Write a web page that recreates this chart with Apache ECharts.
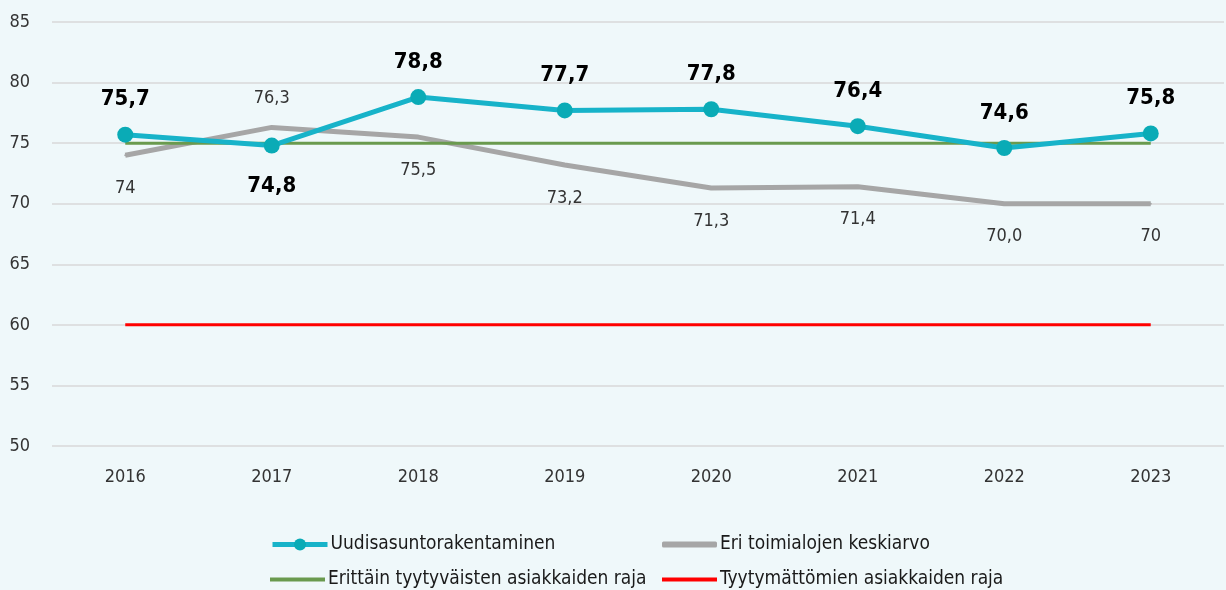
<!DOCTYPE html>
<html>
<head>
<meta charset="utf-8">
<script src="https://cdn.jsdelivr.net/npm/echarts@6/dist/echarts.min.js"></script>
<style>
  html, body { margin: 0; padding: 0; background: #eff8fa; }
  #chart { width: 1226px; height: 590px; }
</style>
</head>
<body>
<div id="chart"></div>
<script>
const years = ['2016', '2017', '2018', '2019', '2020', '2021', '2022', '2023']
const uudis = [75.7, 74.8, 78.8, 77.7, 77.8, 76.4, 74.6, 75.8]
const keskiarvo = [74, 76.3, 75.5, 73.2, 71.3, 71.4, 70.0, 70]
const keskiarvoLabels = ['74', '76,3', '75,5', '73,2', '71,3', '71,4', '70,0', '70']
const erittainRaja = [75, 75, 75, 75, 75, 75, 75, 75]
const tyytymatonRaja = [60, 60, 60, 60, 60, 60, 60, 60]

const font = "'Liberation Sans Narrow', 'DejaVu Sans Condensed', sans-serif"
const fmt = v => String(v).replace('.', ',')

function legendItem(name, left, top, icon, h, extra) {
  return Object.assign({
    left: left, top: top,
    itemWidth: 55, itemHeight: h, itemGap: 0,
    icon: icon,
    textStyle: { fontFamily: font, fontSize: 19, color: '#1a1a1a', padding: [0, 0, 0, -2] },
    data: [name]
  }, extra || {})
}

let myChart = echarts.init(document.getElementById('chart'))
let option = {
  backgroundColor: '#eff8fa',
  textStyle: { fontFamily: font },
  grid: { left: 52, right: 2, top: 22, bottom: 144 },
  legend: [
    legendItem('Uudisasuntorakentaminen', 265, 530, undefined, 15, { lineStyle: { width: 5 } }),
    legendItem('Erittäin tyytyväisten asiakkaiden raja', 265, 565, 'rect', 4),
    legendItem('Eri toimialojen keskiarvo', 657, 530, 'roundRect', 6),
    legendItem('Tyytymättömien asiakkaiden raja', 657, 565, 'rect', 4)
  ],
  xAxis: {
    type: 'category',
    data: years,
    boundaryGap: true,
    axisLine: { show: false },
    axisTick: { show: false },
    axisLabel: { fontFamily: font, fontSize: 18, color: '#333', margin: 22 }
  },
  yAxis: {
    type: 'value',
    min: 50, max: 85, interval: 5,
    axisLine: { show: false },
    axisTick: { show: false },
    axisLabel: { fontFamily: font, fontSize: 18, color: '#333', margin: 22 },
    splitLine: { lineStyle: { color: '#d9d9d9', width: 1.5 } }
  },
  series: [
    {
      name: 'Eri toimialojen keskiarvo',
      type: 'line',
      symbol: 'circle',
      symbolSize: 2,
      z: 2,
      lineStyle: { color: '#a6a6a6', width: 5 },
      itemStyle: { color: '#a6a6a6' },
      label: {
        show: true,
        fontFamily: font, fontSize: 18, color: '#333',
        formatter: p => keskiarvoLabels[p.dataIndex]
      },
      data: keskiarvo.map((v, i) => ({
        value: v,
        label: i === 1 ? { position: 'top', distance: 19 } : { position: 'bottom', distance: 23 }
      }))
    },
    {
      name: 'Erittäin tyytyväisten asiakkaiden raja',
      type: 'line',
      data: erittainRaja,
      symbol: 'none',
      z: 3,
      lineStyle: { color: '#6a9a4e', width: 3 },
      itemStyle: { color: '#6a9a4e' }
    },
    {
      name: 'Tyytymättömien asiakkaiden raja',
      type: 'line',
      data: tyytymatonRaja,
      symbol: 'none',
      z: 3,
      lineStyle: { color: '#ff0000', width: 3 },
      itemStyle: { color: '#ff0000' }
    },
    {
      name: 'Uudisasuntorakentaminen',
      type: 'line',
      symbol: 'circle',
      symbolSize: 16,
      z: 4,
      lineStyle: { color: '#17b3c9', width: 5 },
      itemStyle: { color: '#0aabb6' },
      label: {
        show: true,
        fontFamily: font, fontSize: 22, fontWeight: 'bold', color: '#000',
        formatter: p => fmt(p.value)
      },
      data: uudis.map((v, i) => ({
        value: v,
        label: i === 1 ? { position: 'bottom', distance: 22 } : { position: 'top', distance: 16 }
      }))
    }
  ]
}
myChart.setOption(option)
</script>
</body>
</html>
